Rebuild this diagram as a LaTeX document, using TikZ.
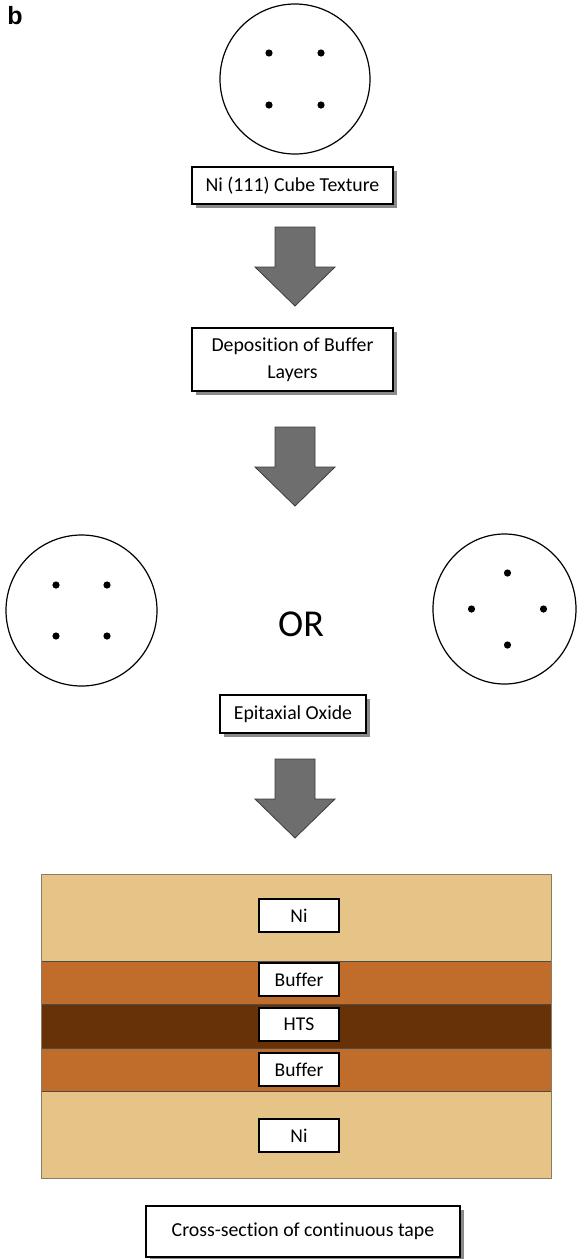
\documentclass[tikz,border=0pt]{standalone}
\usepackage{fontspec}
\setmainfont[RawFeature={-liga}]{Carlito}
\newfontfamily\labelfont{Liberation Sans}
\usetikzlibrary{shadows}
\definecolor{niTan}{HTML}{E6C386}
\definecolor{bufOrange}{HTML}{C06C2B}
\definecolor{htsBrown}{HTML}{683208}
\definecolor{tapeEdge}{HTML}{8C7B66}
\definecolor{arrowFill}{HTML}{6E6E6E}
\definecolor{arrowEdge}{HTML}{3C3C3C}
\definecolor{shadowGray}{HTML}{8A8A8A}
\tikzset{
  capbox/.style={draw=black, line width=1.3pt, fill=white, inner sep=0pt,
    font=\fontsize{19.8}{27}\selectfont, align=center,
    drop shadow={shadow xshift=4pt, shadow yshift=-4pt, fill=shadowGray, opacity=1}},
  layerlabel/.style={draw=black, line width=1.3pt, fill=white, inner sep=0pt,
    minimum width=80pt, minimum height=33pt, font=\fontsize{19.5}{23}\selectfont,
    drop shadow={shadow xshift=1.2pt, shadow yshift=-1.2pt, fill=black!80, opacity=1}},
  pole/.style={draw=black, line width=1.2pt},
  spot/.style={fill=black},
  blockarrow/.style={fill=arrowFill, draw=arrowEdge, line width=0.8pt, line join=miter},
  layer/.style={draw=black!70, line width=0.6pt},
}
\newcommand{\downblock}[1]{%
  \draw[blockarrow] (275,#1) -- (315,#1) -- (315,#1+40) -- (335,#1+40) -- (295,#1+79)
    -- (255,#1+40) -- (275,#1+40) -- cycle;}
\begin{document}
\begin{tikzpicture}[x=1pt,y=-1pt]
\useasboundingbox (0,0) rectangle (577,1259);
\fill[white] (0,0) rectangle (577,1259);

% panel label
\node[font=\labelfont\bfseries\fontsize{25}{28}\selectfont, inner sep=0pt] (lbl) at (15,16) {b};

% top pole figure
\draw[pole] (295,79) circle[radius=75];
\foreach \dx/\dy in {-26/-26, 26/-26, -26/26, 26/26}
  \fill[spot] (295+\dx,79+\dy) circle[radius=3.6];

\node[capbox, minimum width=201pt, minimum height=37pt] (cube) at (292.5,185.5) {Ni (111) Cube Texture};

\downblock{227}

\node[capbox, minimum width=201pt, minimum height=63pt] (dep) at (292.5,359.5) {Deposition of Buffer\\Layers};

\downblock{427}

% left pole figure (cube on cube)
\draw[pole] (81.5,610.5) circle[radius=75.5];
\foreach \dx/\dy in {-25.5/-25.5, 25.5/-25.5, -25.5/25.5, 25.5/25.5}
  \fill[spot] (81.5+\dx,610.5+\dy) circle[radius=3.6];

\node[font=\fontsize{38}{40}\selectfont, inner sep=0pt] (or) at (301,624) {OR};

% right pole figure (rotated 45 deg)
\draw[pole] (504.5,609) ellipse[x radius=71.5, y radius=75];
\foreach \dx/\dy in {0/-36, 36/0, 0/36, -36/0}
  \fill[spot] (507.5+\dx,609+\dy) circle[radius=3.6];

\node[capbox, minimum width=146pt, minimum height=38pt] (epi) at (293,714) {Epitaxial Oxide};

\downblock{759}

% tape cross-section
\fill[niTan] (41,874) rectangle (551,961);
\fill[bufOrange] (41,961) rectangle (551,1004);
\fill[htsBrown] (41,1004) rectangle (551,1048);
\fill[bufOrange] (41,1048) rectangle (551,1091);
\fill[niTan] (41,1091) rectangle (551,1178);
\draw[layer] (41,961) -- (551,961);
\draw[layer] (41,1004) -- (551,1004);
\draw[layer] (41,1048) -- (551,1048);
\draw[layer] (41,1091) -- (551,1091);
\draw[tapeEdge, line width=1pt] (41,874) rectangle (551,1178);

\node[layerlabel] (ni1) at (299,915.5) {Ni};
\node[layerlabel] (buf1) at (299,979.5) {Buffer};
\node[layerlabel] (hts) at (299,1024.5) {HTS};
\node[layerlabel] (buf2) at (299,1069.5) {Buffer};
\node[layerlabel] (ni2) at (299,1135.5) {Ni};

\node[capbox, minimum width=314pt, minimum height=51pt] (cross) at (303,1231.5) {Cross-section of continuous tape};
\end{tikzpicture}
\end{document}
